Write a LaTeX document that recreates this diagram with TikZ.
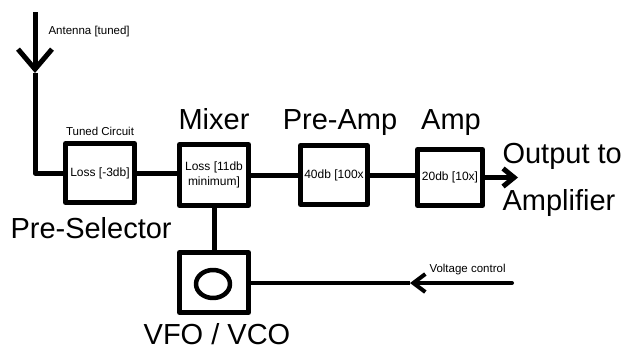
\documentclass[tikz,border=0pt]{standalone}
\usepackage{fontspec}
\setmainfont{Liberation Sans}
\usetikzlibrary{arrows.meta,shapes.geometric}
\begin{document}
\begin{tikzpicture}[x=1pt,y=-1pt, line width=5pt, line join=round,
  blk/.style={draw, line width=5pt, minimum width=69pt, minimum height=59pt, inner sep=0pt, align=center, font=\fontsize{12}{15}\selectfont},
  big/.style={font=\fontsize{29}{33}\selectfont, inner sep=0pt, anchor=base},
  small/.style={font=\fontsize{11.5}{13}\selectfont, inner sep=0pt},
  thinwire/.style={line width=4pt}]
\useasboundingbox[fill=white] (0,0) rectangle (627,351);
% blocks
\node[blk] (tc) at (100,173) {Loss [-3db]};
\node[blk, minimum height=61pt] (mix) at (214,175) {Loss [11db\\minimum]};
\node[blk, minimum width=67pt] (pre) at (334,175) {40db [100x};
\node[blk, minimum width=65pt, minimum height=56pt] (amp) at (450,177.5) {20db [10x]};
\node[blk, minimum height=60pt] (vfo) at (214,282.5) {};
\node[draw, ellipse, line width=4.5pt, minimum width=34pt, minimum height=28pt, inner sep=0pt] (osc) at (213,284) {};
% coordinates
\coordinate (ant) at (35,12);
\coordinate (antip) at (35,73);
\coordinate (c1) at (35,173);
\coordinate (out) at (518,177.5);
\coordinate (vc) at (512,283);
\coordinate (vtip) at (410,283);
% connectors
\draw[-{Straight Barb[length=20pt,width=34pt]}] (ant) -- (antip);
\draw (antip) -- (c1) -- (tc.west);
\draw (tc.east) -- (tc.east -| mix.west);
\draw (mix.east) -- (mix.east -| pre.west);
\draw (pre.east) -- (pre.east -| amp.west);
\draw[-{Straight Barb[length=11pt,width=18pt]}] (amp.east) -- (out);
\draw (mix.south) -- (vfo.north);
\draw[thinwire, line cap=round, -{Straight Barb[length=12pt,width=18pt]}] (vc) -- (vtip);
\draw[thinwire] (vtip) -- (vtip -| vfo.east);
% labels
\node[small, anchor=west] (antl) at (46,32) {Antenna [tuned]};
\node[small] (tcl) at (100,131) {Tuned Circuit};
\node[big, anchor=base west] (psl) at (8,238) {Pre-Selector};
\node[big] (mixl) at (214,129) {Mixer};
\node[big] (prel) at (340,129) {Pre-Amp};
\node[big] (ampl) at (451,129) {Amp};
\node[big, anchor=base west] (outl) at (500,163) {Output to};
\node[big, anchor=base west] (outl2) at (500,210) {Amplifier};
\node[big] (vfol) at (217,344) {VFO / VCO};
\node[small, anchor=west] (vcl) at (427,270) {Voltage control};
\end{tikzpicture}
\end{document}
